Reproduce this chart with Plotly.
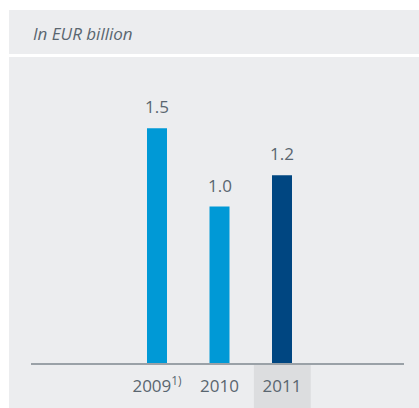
import plotly.graph_objects as go

# Values in EUR billion
years = [2009, 2010, 2011]
tick_labels = ["2009<sup>1)</sup>", "2010", "2011"]
values = [1.5, 1.0, 1.2]
bar_colors = ["#0099d6", "#0099d6", "#004681"]

W, H = 419, 408
TEXT = "#5a6670"
FONT = "Open Sans"

fig = go.Figure()
fig.add_trace(go.Bar(
    x=years, y=values, width=0.32,
    marker=dict(color=bar_colors, line=dict(width=0)),
    hoverinfo="skip",
))

# value labels above the bars
for x, v in zip(years, values):
    fig.add_annotation(x=x, y=v, text=f"{v:.1f}", showarrow=False,
                       yanchor="bottom", yshift=8,
                       font=dict(family=FONT, size=17, color=TEXT))

def px(x):
    return x / W

def py(y):
    return 1 - y / H

shapes = [
    # header band
    dict(type="rect", xref="paper", yref="paper", x0=px(9), x1=px(419),
         y0=py(54), y1=py(10), fillcolor="#ecedef", line=dict(width=0), layer="below"),
    # chart panel
    dict(type="rect", xref="paper", yref="paper", x0=px(9), x1=px(419),
         y0=py(408), y1=py(57), fillcolor="#ecedef", line=dict(width=0), layer="below"),
    # current-year highlight under the axis
    dict(type="rect", xref="x", yref="paper", x0=2011 - 0.45, x1=2011 + 0.46,
         y0=py(408), y1=py(363), fillcolor="#dcdddf", line=dict(width=0), layer="below"),
]

fig.add_annotation(xref="paper", yref="paper", x=px(31), y=py(33),
                   xanchor="left", yanchor="middle", showarrow=False,
                   text="<i>In EUR billion</i>",
                   font=dict(family=FONT, size=17, color=TEXT))

fig.update_layout(
    width=W, height=H,
    margin=dict(l=0, r=0, t=0, b=0),
    paper_bgcolor="white", plot_bgcolor="rgba(0,0,0,0)",
    showlegend=False, shapes=shapes,
    font=dict(family=FONT, color=TEXT),
    xaxis=dict(domain=[px(31), px(404)], range=[2006.984, 2012.952],
               tickmode="array", tickvals=years, ticktext=tick_labels,
               tickfont=dict(family=FONT, size=17, color=TEXT),
               showline=True, linecolor="#9aa1a7", linewidth=2,
               showgrid=False, zeroline=False, ticks="outside", ticklen=7,
               tickcolor="rgba(0,0,0,0)", fixedrange=True),
    yaxis=dict(domain=[py(363), py(60)], range=[0, 303 / 156.5],
               visible=False, showgrid=False, zeroline=False, fixedrange=True),
)

fig.write_html("out.html")
